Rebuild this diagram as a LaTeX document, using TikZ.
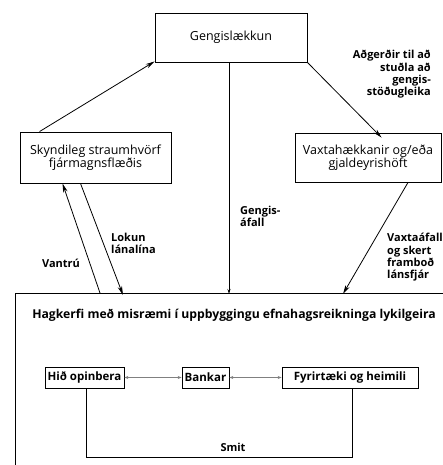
\documentclass[tikz,border=0pt]{standalone}
\usepackage{fontspec}
\setmainfont{Open Sans}
\usetikzlibrary{arrows.meta,calc}
\begin{document}
\begin{tikzpicture}[x=1pt,y=-1pt,
  box/.style={draw,line width=0.9pt,inner sep=0pt,align=center,font=\fontsize{12.5}{13.5}\selectfont},
  sbox/.style={draw,line width=0.8pt,inner sep=0pt,align=center,minimum height=21pt,font=\fontsize{11.5}{12}\selectfont\bfseries},
  lbl/.style={inner sep=0pt,font=\fontsize{11}{12.4}\selectfont\bfseries},
  arr/.style={line width=0.8pt,-{Stealth[length=9pt,width=4.5pt]}},
  thin/.style={line width=0.5pt,gray,{Stealth[length=4pt,width=3pt]}-{Stealth[length=4pt,width=3pt]}},
  ln/.style={line width=0.8pt}]
\useasboundingbox (0,0) rectangle (442,465);
\node[box,minimum width=152pt,minimum height=49pt] (geng) at (231,37.5) {Gengislækkun};
\node[box,minimum width=151pt,minimum height=51pt] (skynd) at (95.5,157.5) {Skyndileg straumhvörf\\fjármagnsflæðis};
\node[box,minimum width=146pt,minimum height=49pt] (vaxt) at (368,157.5) {Vaxtahækkanir og/eða\\gjaldeyrishöft};
\node[draw,line width=0.9pt,inner sep=0pt,minimum width=440pt,minimum height=180pt,anchor=north west] (big) at (15,293) {};
\node[inner sep=0pt,font=\fontsize{12.2}{12}\selectfont\bfseries] (title) at (234,315) {Hagkerfi með misræmi í uppbyggingu efnahagsreikninga lykilgeira};
\node[sbox,minimum width=79pt] (hid) at (84.5,377.5) {Hið opinbera};
\node[sbox,minimum width=47pt] (bank) at (205.5,377.5) {Bankar};
\node[sbox,minimum width=136pt] (fyr) at (350,377.5) {Fyrirtæki og heimili};
\draw[thin] (hid.east) -- (bank.west);
\draw[thin] (bank.east) -- (fyr.west);
\coordinate (s1) at (86,457);
\coordinate (s2) at (352,457);
\draw[ln] (hid.south -| s1) -- (s1) -- (s2) -- (fyr.south -| s2);
\node[lbl] (smit) at (233,447) {Smit};
% arrows
\draw[arr] ([xshift=20pt]skynd.north west) -- ([yshift=1pt]geng.south west);
\draw[arr] (geng.south east) -- ([xshift=87pt,yshift=-5pt]vaxt.north west);
\draw[line width=0.8pt,-{Stealth[length=5pt,width=3pt]}] ([xshift=-2pt]geng.south) -- ([xshift=-2pt,yshift=-1pt]geng.south |- big.north);
\draw[arr] ([xshift=85pt]big.north west) -- ([xshift=-33pt]skynd.south);
\draw[arr] ([xshift=-15pt]skynd.south) -- ([xshift=108pt,yshift=-2pt]big.north west);
\draw[arr] ([xshift=40pt]vaxt.south) -- ([xshift=328pt,yshift=-1pt]big.north west);
% labels
\node[lbl,align=right,anchor=north east] (adg) at (431,50) {Aðgerðir til að\\stuðla að\\gengis-\\stöðugleika};
\node[lbl,align=left,anchor=north west] (gafall) at (240,206) {Gengis-\\áfall};
\node[lbl,align=left,anchor=north west] (lokun) at (111,233) {Lokun\\lánalína};
\node[lbl] (vantru) at (61,263) {Vantrú};
\node[lbl,align=left,anchor=north west] (vafall) at (387,233) {Vaxtaáfall\\og skert\\framboð\\lánsfjár};
\end{tikzpicture}
\end{document}
